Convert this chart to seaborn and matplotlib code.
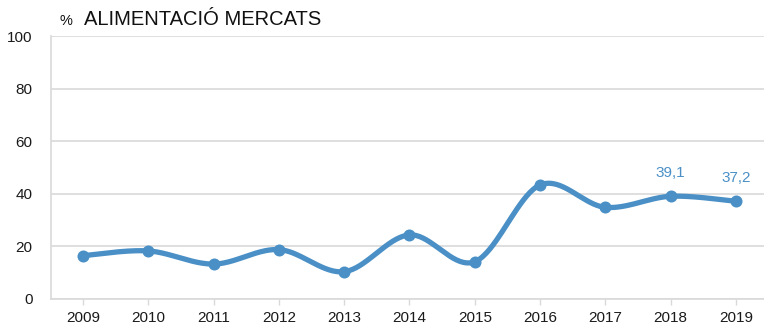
import numpy as np
import pandas as pd
import matplotlib
matplotlib.use("Agg")
import matplotlib.pyplot as plt
import seaborn as sns

years = ["2009", "2010", "2011", "2012", "2013", "2014", "2015", "2016", "2017", "2018", "2019"]
values = [16.5, 18.3, 13.3, 18.8, 10.4, 24.4, 14.2, 43.4, 34.9, 39.1, 37.2]
labelled_years = ["2018", "2019"]
yticks = [0, 20, 40, 60, 80, 100]

LINE = "#4A90C6"
GRID = "#D9D9D9"

sns.set_theme(style="white")
plt.rcParams["font.family"] = ["Liberation Sans", "DejaVu Sans"]

fig = plt.figure(figsize=(7.64, 3.25), dpi=100)
ax = fig.add_axes([50.7 / 764, 26 / 325, (764 - 50.7) / 764, (299 - 36.3) / 325])

x = np.arange(len(years), dtype=float)
y = np.array(values, dtype=float)

# Smoothed curve: cubic Bezier segments with Catmull-Rom style control points,
# computed in a roughly isotropic (pixel-like) space
sx, sy = 65.3, 2.625
P = np.column_stack([x * sx, y * sy])
curve = []
n = len(P)
t = np.linspace(0, 1, 40)
for i in range(n - 1):
    p0 = P[i - 1] if i > 0 else P[i]
    p1 = P[i]
    p2 = P[i + 1]
    p3 = P[i + 2] if i + 2 < n else P[i + 1]
    c1 = p1 + (p2 - p0) / 6.0
    c2 = p2 - (p3 - p1) / 6.0
    seg = ((1 - t) ** 3)[:, None] * p1 + (3 * (1 - t) ** 2 * t)[:, None] * c1 \
        + (3 * (1 - t) * t ** 2)[:, None] * c2 + (t ** 3)[:, None] * p2
    curve.append(seg if i == 0 else seg[1:])
curve = np.vstack(curve)
smooth = pd.DataFrame({"x": curve[:, 0] / sx, "y": curve[:, 1] / sy})
pts = pd.DataFrame({"x": x, "y": y})

sns.lineplot(data=smooth, x="x", y="y", ax=ax, color=LINE, linewidth=3.8,
             sort=False, estimator=None)
sns.scatterplot(data=pts, x="x", y="y", ax=ax, color=LINE, s=75,
                edgecolor=LINE, linewidth=0, zorder=3)

for yr, xv, yv in zip(years, x, y):
    if yr in labelled_years:
        ax.annotate(f"{yv:.1f}".replace(".", ","), (xv, yv), xytext=(0, 14),
                    textcoords="offset points", ha="center", va="baseline",
                    color=LINE, fontsize=11)

ax.set_xlim(-0.495, 10.43)
ax.set_ylim(0, 100)
ax.set_yticks(yticks)
ax.set_xticks(x)
ax.set_xticklabels(years)
ax.set_xlabel("")
ax.set_ylabel("")
ax.yaxis.grid(True, color=GRID, linewidth=1.2)
ax.set_axisbelow(True)
for side in ["top", "right"]:
    ax.spines[side].set_visible(False)
for side in ["left", "bottom"]:
    ax.spines[side].set_color(GRID)
    ax.spines[side].set_linewidth(1.2)
ax.tick_params(axis="y", length=0, pad=13, labelsize=11, labelcolor="#1a1a1a")
ax.tick_params(axis="x", length=4, width=1, color=GRID, pad=5,
               labelsize=11, labelcolor="#1a1a1a", bottom=True)

fig.text(60 / 764, 1 - 25 / 325, "%", fontsize=10.5, color="#111111",
         ha="left", va="baseline")
fig.text(84 / 764, 1 - 25 / 325, "ALIMENTACIÓ MERCATS", fontsize=14.5,
         color="#111111", ha="left", va="baseline")

fig.savefig("out.png", dpi=100)
